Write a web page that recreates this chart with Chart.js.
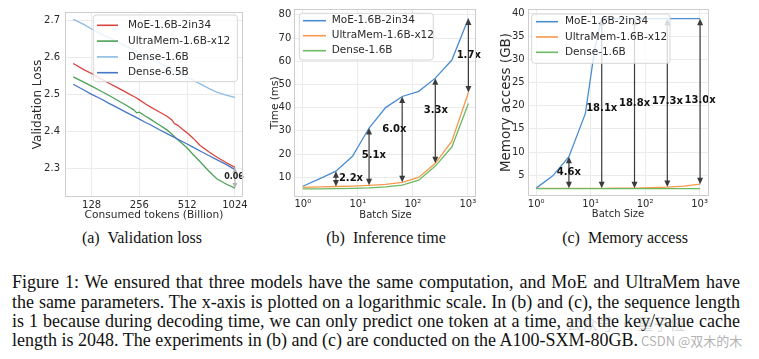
<!DOCTYPE html>
<html><head><meta charset="utf-8">
<script src="https://cdn.jsdelivr.net/npm/chart.js@4.4.0/dist/chart.umd.min.js"></script>
<style>
html,body{margin:0;padding:0;background:#fff;}
body{width:759px;height:359px;position:relative;overflow:hidden;}
canvas.cv{position:absolute;top:0;}
.sub{position:absolute;top:228px;font-family:"Liberation Serif","Times New Roman",serif;font-size:16px;color:#111;white-space:nowrap;transform:translateX(-50%);line-height:20px;}
.cap{position:absolute;left:12px;width:728px;font-family:"Liberation Serif","Times New Roman",serif;font-size:18px;color:#111;line-height:20px;}
.just{text-align:justify;text-align-last:justify;}
.wm{position:absolute;font-family:"Noto Sans CJK SC","Noto Sans",sans-serif;white-space:nowrap;}
</style>
</head><body>
<canvas id="cA" class="cv" width="250" height="228" style="left:0px"></canvas>
<canvas id="cB" class="cv" width="250" height="228" style="left:250px"></canvas>
<canvas id="cC" class="cv" width="259" height="228" style="left:500px"></canvas>
<div class="sub" style="left:142px">(a)&nbsp; Validation loss</div>
<div class="sub" style="left:386px">(b)&nbsp; Inference time</div>
<div class="sub" style="left:625px">(c)&nbsp; Memory access</div>
<div class="cap just" style="top:272px">Figure 1: We ensured that three models have the same computation, and MoE and UltraMem have</div>
<div class="cap just" style="top:292px">the same parameters. The x-axis is plotted on a logarithmic scale. In (b) and (c), the sequence length</div>
<div class="cap just" style="top:311px">is 1 because during decoding time, we can only predict one token at a time, and the key/value cache</div>
<div class="cap" style="top:330px">length is 2048. The experiments in (b) and (c) are conducted on the A100-SXM-80GB.</div>
<div class="wm" style="left:566px;top:311px;font-size:16px;color:rgba(120,120,120,0.28)">公众号 · 量子位</div>
<div class="wm" style="left:641px;top:331px;font-size:13px;color:rgba(150,150,150,0.75)">CSDN @双木的木</div>
<script>
// ---------------- (a) Validation loss ----------------
const tokensA      = [98,115,128,146,166,186,210,236,246,256,280,300,340,382,410,425,445,480,512,560,618,700,786,900,1024];
const moeLossA     = [2.583,2.566,2.556,2.542,2.529,2.518,2.506,2.494,2.490,2.485,2.474,2.466,2.453,2.441,2.431,2.421,2.417,2.405,2.396,2.381,2.362,2.345,2.331,2.316,2.303];
const ultraLossA   = [2.547,2.532,2.522,2.509,2.496,2.484,2.471,2.458,2.450,2.452,2.441,2.433,2.418,2.404,2.393,2.386,2.378,2.366,2.355,2.337,2.318,2.293,2.272,2.258,2.247];
const dense16LossA = [2.702,2.688,2.676,2.663,2.652,2.641,2.630,2.620,2.616,2.612,2.603,2.597,2.585,2.574,2.567,2.563,2.559,2.552,2.546,2.538,2.528,2.516,2.506,2.498,2.492];
const dense65LossA = [2.527,2.511,2.500,2.488,2.475,2.464,2.452,2.441,2.437,2.433,2.424,2.418,2.405,2.394,2.387,2.384,2.379,2.372,2.366,2.357,2.347,2.335,2.324,2.311,2.297];
const xTicksA = [128,256,512,1024];
const yTicksA = [2.3,2.4,2.5,2.6,2.7];
const gapA = {x:1024, from:2.302, to:2.247, label:'0.06', lx:1010, ly:2.278};

// ---------------- (b) Inference time ----------------
const batchB     = [1,2,4,8,16,32,64,128,256,512,1024];
const moeTimeB   = [6.1,9.3,12.6,19.0,31.2,40.0,44.8,47.0,52.7,60.5,78.4];
const ultraTimeB = [5.6,5.8,6.0,6.2,6.5,6.9,7.8,9.9,16.0,25.5,46.5];
const denseTimeB = [5.0,5.0,5.1,5.2,5.4,5.8,6.6,8.7,14.8,23.0,41.8];
const yTicksB = [10,20,30,40,50,60,70,80];
const arrowXB   = [4,16,64,256,1024];
const ratioB    = ['2.2x','5.1x','6.0x','3.3x','1.7x'];
const ratioXB   = [7.5,19.5,46,261,1038];
const ratioYB   = [9.5,19.4,30.5,39,62.6];

// ---------------- (c) Memory access ----------------
const batchC     = [1,2,4,8,12,16,32,64,128,256,512,1024];
const moeMemC    = [2.2,4.8,9.0,18.3,32.5,38.8,38.8,38.8,38.8,38.8,38.8,38.8];
const ultraMemC  = [2.15,2.15,2.15,2.15,2.15,2.15,2.17,2.2,2.28,2.42,2.65,3.05];
const denseMemC  = [2.08,2.08,2.08,2.08,2.08,2.08,2.08,2.08,2.08,2.08,2.08,2.08];
const yTicksC = [5,10,15,20,25,30,35,40];
const arrowXC   = [4,16,64,256,1024];
const ratioC    = ['4.6x','18.1x','18.8x','17.3x','13.0x'];
const ratioXC   = [4,16,64,256,1024];
const ratioYC   = [5.7,19.5,20.6,20.9,21.05];

const xTicksLog = [1,10,100,1000];
const supLabel = {1:'10\u2070',10:'10\u00b9',100:'10\u00b2',1000:'10\u00b3'};

const FONT = '"DejaVu Sans", "Liberation Sans", sans-serif';
const TXT = '#2a2a2a';
const GRID = '#ebebeb';
const FRAME = '#cdcdcd';

function pairs(xs, ys){ return xs.map((x,i)=>({x:x, y:ys[i]})); }

function headAt(ctx, x, y, dir, hl, hw){
  ctx.beginPath(); ctx.moveTo(x,y); ctx.lineTo(x-hw, y+dir*hl); ctx.lineTo(x+hw, y+dir*hl); ctx.closePath(); ctx.fill();
}
function dblArrow(ctx, x, y0, y1, color, lw, hl, hw){
  const dir = y1 > y0 ? 1 : -1;
  ctx.save();
  ctx.strokeStyle = color; ctx.fillStyle = color; ctx.lineWidth = lw;
  ctx.beginPath(); ctx.moveTo(x, y0 + dir*hl*0.7); ctx.lineTo(x, y1 - dir*hl*0.7); ctx.stroke();
  headAt(ctx, x, y0, dir, hl, hw);
  headAt(ctx, x, y1, -dir, hl, hw);
  ctx.restore();
}

const decor = {
  id: 'decor',
  afterDatasetsDraw(chart, args, o){
    const ctx = chart.ctx, xs = chart.scales.x, ys = chart.scales.y, ca = chart.chartArea;
    (o.arrows || []).forEach(a=>{
      dblArrow(ctx, xs.getPixelForValue(a.x), ys.getPixelForValue(a.from), ys.getPixelForValue(a.to), a.color, a.lw, a.hl, a.hw);
    });
    (o.labels || []).forEach(l=>{
      ctx.save();
      ctx.font = l.font; ctx.fillStyle = l.color; ctx.textAlign = 'center'; ctx.textBaseline = 'middle';
      ctx.fillText(l.text, xs.getPixelForValue(l.x), ys.getPixelForValue(l.y));
      ctx.restore();
    });
    ctx.save();
    ctx.strokeStyle = FRAME; ctx.lineWidth = 1;
    ctx.strokeRect(Math.round(ca.left)+0.5, Math.round(ca.top)+0.5, Math.round(ca.right-ca.left)-1, Math.round(ca.bottom-ca.top)-1);
    ctx.restore();
    const L = o.legend;
    if (L){
      ctx.save();
      const r = 3;
      ctx.beginPath();
      ctx.moveTo(L.x+r, L.y); ctx.lineTo(L.x+L.w-r, L.y); ctx.quadraticCurveTo(L.x+L.w, L.y, L.x+L.w, L.y+r);
      ctx.lineTo(L.x+L.w, L.y+L.h-r); ctx.quadraticCurveTo(L.x+L.w, L.y+L.h, L.x+L.w-r, L.y+L.h);
      ctx.lineTo(L.x+r, L.y+L.h); ctx.quadraticCurveTo(L.x, L.y+L.h, L.x, L.y+L.h-r);
      ctx.lineTo(L.x, L.y+r); ctx.quadraticCurveTo(L.x, L.y, L.x+r, L.y); ctx.closePath();
      ctx.fillStyle = 'rgba(255,255,255,0.8)'; ctx.fill();
      ctx.strokeStyle = '#d6d6d6'; ctx.lineWidth = 1; ctx.stroke();
      ctx.font = '10.5px ' + FONT; ctx.textBaseline = 'middle'; ctx.textAlign = 'left';
      chart.data.datasets.forEach((ds, i)=>{
        const y = L.row0 + i*L.dy;
        ctx.strokeStyle = ds.borderColor; ctx.lineWidth = 1.6;
        ctx.beginPath(); ctx.moveTo(L.s0, y); ctx.lineTo(L.s1, y); ctx.stroke();
        ctx.fillStyle = TXT; ctx.fillText(ds.label, L.tx, y);
      });
      ctx.restore();
    }
  }
};
Chart.register(decor);

function baseOptions(p){
  return {
    responsive:false, animation:false, events:[],
    layout:{padding:{left:0, top:p.top, right:p.right, bottom:0}, autoPadding:false},
    elements:{point:{radius:0}, line:{borderWidth:1.3, tension:0}},
    plugins:{legend:{display:false}, tooltip:{enabled:false}, decor:p.decor},
    scales:{
      x:{type:'logarithmic', min:p.xmin, max:p.xmax,
         afterBuildTicks:s=>{ s.ticks = p.xticks.map(v=>({value:v})); },
         ticks:{callback:p.xfmt, font:{family:FONT, size:10}, color:TXT, padding:p.xpad, maxRotation:0, autoSkip:false},
         grid:{color:GRID, drawTicks:false, lineWidth:1}, border:{display:false},
         title:{display:true, text:p.xtitle, font:{family:FONT, size:p.xfs}, color:TXT, padding:{top:0,bottom:p.xtb}},
         afterFit:s=>{ s.height = p.xh; }},
      y:{type:'linear', min:p.ymin, max:p.ymax,
         afterBuildTicks:s=>{ s.ticks = p.yticks.map(v=>({value:v})); },
         ticks:{callback:p.yfmt, font:{family:FONT, size:10}, color:TXT, padding:p.ypad, autoSkip:false},
         grid:{color:GRID, drawTicks:false, lineWidth:1}, border:{display:false},
         title:{display:true, text:p.ytitle, font:{family:FONT, size:p.yfs, lineHeight:1}, color:TXT, padding:{top:p.ytp,bottom:0}},
         afterFit:s=>{ s.width = p.yw; }}
    }
  };
}

function ds(label, xs, ys, color, order){
  return {label:label, data:pairs(xs, ys), borderColor:color, backgroundColor:color, fill:false, order:order};
}

const ARROW = '#3b3b3b';
const BOLD = 'bold 10px ' + FONT;
function idxVal(xs, ys, x){ return ys[xs.indexOf(x)]; }

new Chart(document.getElementById('cA'), {
  type:'line',
  data:{datasets:[
    ds('MoE-1.6B-2in34', tokensA, moeLossA, '#d8443f', 4),
    ds('UltraMem-1.6B-x12', tokensA, ultraLossA, '#4ea257', 3),
    ds('Dense-1.6B', tokensA, dense16LossA, '#8dbce4', 2),
    ds('Dense-6.5B', tokensA, dense65LossA, '#4677c4', 1)
  ]},
  options: baseOptions({
    top:12, right:7, xmin:87, xmax:1150, xticks:xTicksA, xfmt:v=>String(v), xpad:2, xtitle:'Consumed tokens (Billion)', xfs:10.6, xtb:6, xh:31,
    ymin:2.223, ymax:2.722, yticks:yTicksA, yfmt:v=>v.toFixed(1), ypad:5, ytitle:'Validation Loss', yfs:12, ytp:32.3, yw:65,
    decor:{
      arrows:[{x:gapA.x, from:gapA.from, to:gapA.to, color:'#b0b0b0', lw:1, hl:5, hw:2.5}],
      labels:[{text:gapA.label, x:gapA.lx, y:gapA.ly, font:'bold 8px '+FONT, color:'#222'}],
      legend:{x:93.3, y:15, w:144, h:66.7, row0:25.3, dy:15.8, s0:97, s1:118, tx:128}
    }
  })
});

new Chart(document.getElementById('cB'), {
  type:'line',
  data:{datasets:[
    ds('MoE-1.6B-2in34', batchB, moeTimeB, '#4b8dd3', 3),
    ds('UltraMem-1.6B-x12', batchB, ultraTimeB, '#f7994c', 2),
    ds('Dense-1.6B', batchB, denseTimeB, '#6cba62', 1)
  ]},
  options: baseOptions({
    top:6, right:23.3, xmin:0.707, xmax:1448, xticks:xTicksLog, xfmt:v=>supLabel[v], xpad:2, xtitle:'Batch Size', xfs:10, xtb:7, xh:31.3,
    ymin:1.6, ymax:82.5, yticks:yTicksB, yfmt:v=>String(v), ypad:3, ytitle:'Time (ms)', yfs:10.5, ytp:19.75, yw:44.3,
    decor:{
      arrows: arrowXB.map(x=>({x:x, from:idxVal(batchB, ultraTimeB, x), to:idxVal(batchB, moeTimeB, x), color:ARROW, lw:1.2, hl:6.5, hw:3})),
      labels: ratioB.map((t,i)=>({text:t, x:ratioXB[i], y:ratioYB[i], font:BOLD, color:'#111'})),
      legend:{x:49.3, y:13.3, w:134, h:46.7, row0:20.7, dy:15, s0:53, s1:76, tx:81.7}
    }
  })
});

new Chart(document.getElementById('cC'), {
  type:'line',
  data:{datasets:[
    ds('MoE-1.6B-2in34', batchC, moeMemC, '#4b8dd3', 3),
    ds('UltraMem-1.6B-x12', batchC, ultraMemC, '#f7994c', 2),
    ds('Dense-1.6B', batchC, denseMemC, '#6cba62', 1)
  ]},
  options: baseOptions({
    top:6.7, right:50.7, xmin:0.707, xmax:1448, xticks:xTicksLog, xfmt:v=>supLabel[v], xpad:2, xtitle:'Batch Size', xfs:10, xtb:7.7, xh:32,
    ymin:0.5, ymax:40.9, yticks:yTicksC, yfmt:v=>String(v), ypad:3, ytitle:'Memory access (GB)', yfs:13.5, ytp:0, yw:27.7,
    decor:{
      arrows: arrowXC.map(x=>({x:x, from:idxVal(batchC, ultraMemC, x), to:idxVal(batchC, moeMemC, x), color:ARROW, lw:1.2, hl:6.5, hw:3})),
      labels: ratioC.map((t,i)=>({text:t, x:ratioXC[i], y:ratioYC[i], font:BOLD, color:'#111'})),
      legend:{x:31.7, y:14, w:138.3, h:49.3, row0:21.7, dy:15.3, s0:36, s1:58, tx:65}
    }
  })
});
</script>
</body></html>
